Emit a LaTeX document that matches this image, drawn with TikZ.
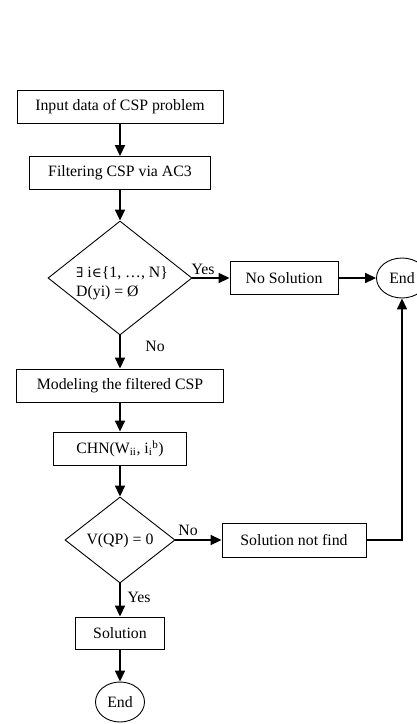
\documentclass[tikz,border=0pt]{standalone}
\usepackage{fontspec}
\setmainfont{Liberation Serif}
\newfontfamily\symf{DejaVu Serif}
\usetikzlibrary{shapes.geometric,arrows.meta}
\begin{document}
\begin{tikzpicture}[x=1pt,y=-1pt,
  font=\fontsize{15.8}{19}\selectfont,
  box/.style={draw,line width=0.9pt,rectangle,inner sep=0pt,minimum height=33pt},
  dia/.style={draw,line width=0.9pt,diamond,inner sep=0pt},
  term/.style={draw,line width=0.9pt,ellipse,inner sep=0pt,minimum width=49pt,minimum height=40pt},
  arr/.style={line width=1.7pt,-{Triangle[length=11pt,width=10pt]}},
  lbl/.style={inner sep=0pt}]
\useasboundingbox (0,0) rectangle (416,724);
\node[box,minimum width=206pt] (b1) at (120,106.5) {Input data of CSP problem};
\node[box,minimum width=181pt] (b2) at (120,173) {Filtering CSP via AC3};
\node[dia,minimum width=144pt,minimum height=114pt] (d1) at (120,278) {};
\node[lbl,align=left,anchor=west] (d1t) at (76,283) {{\symf\fontsize{13.5}{19}\selectfont ∃} i{\symf\fontsize{13.5}{19}\selectfont ∈}\{1, …, N\}\\D(yi) = Ø};
\node[box,minimum width=108pt] (ns) at (284,278) {No Solution};
\node[term,minimum width=51pt] (e1) at (402,278) {End};
\node[box,minimum width=207pt] (b3) at (120,385.5) {Modeling the filtered CSP};
\node[box,minimum width=133pt] (b4) at (120,448.5) {CHN(W\textsubscript{ii}, i\textsubscript{i}\textsuperscript{b})};
\node[dia,minimum width=110pt,minimum height=86pt] (d2) at (120,540) {};
\node[lbl] (d2t) at (120,541) {V(QP) = 0};
\node[box,minimum width=144pt,minimum height=34pt] (snf) at (294,540) {Solution not find};
\node[box,minimum width=89pt,minimum height=32pt] (sol) at (120,633) {Solution};
\node[term] (e2) at (120,702) {End};
\node[lbl] (yes1) at (203,269) {Yes};
\node[lbl] (no1) at (155,346) {No};
\node[lbl] (no2) at (188,530) {No};
\node[lbl] (yes2) at (139,597) {Yes};
\draw[arr] (b1) -- (b2);
\draw[arr] (b2) -- (d1);
\draw[arr] (d1.east) -- (ns.west);
\draw[arr] (ns) -- (e1);
\draw[arr] (d1.south) -- (b3.north);
\draw[arr] (b3) -- (b4);
\draw[arr] (b4) -- (d2);
\draw[arr] (d2.east) -- (snf.west);
\draw[arr] (snf.east) -| (e1.south);
\draw[arr] (d2.south) -- (sol.north);
\draw[arr] (sol) -- (e2);
\end{tikzpicture}
\end{document}
